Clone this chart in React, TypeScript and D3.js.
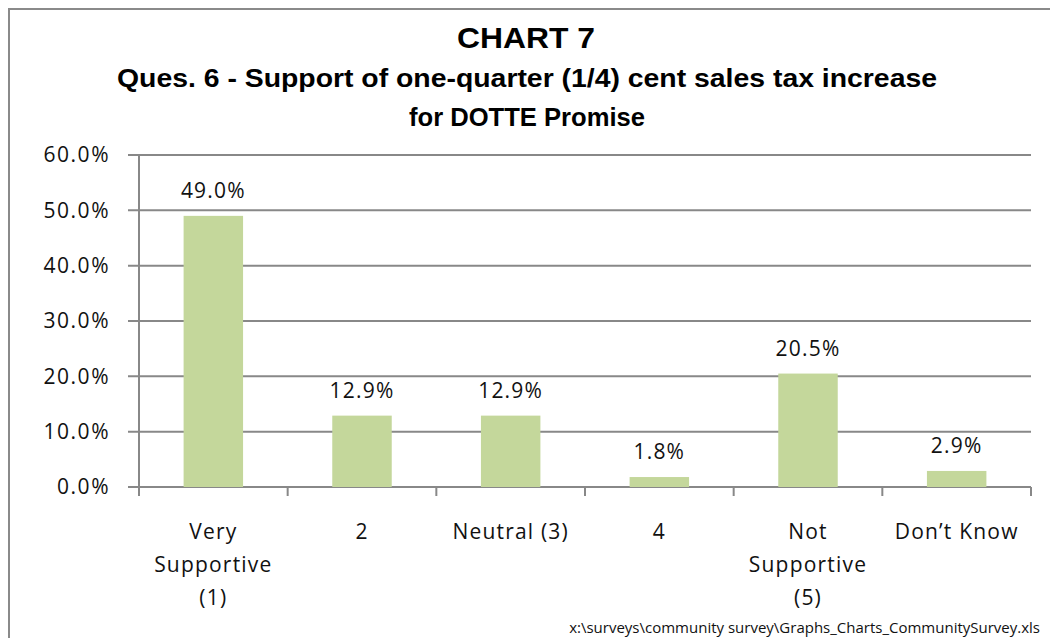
import React from 'react';
import * as d3 from 'd3';

const categories = ['Very Supportive (1)', '2', 'Neutral (3)', '4', 'Not Supportive (5)', 'Don\u2019t Know'];
const categoryLines = [['Very', 'Supportive', '(1)'], ['2'], ['Neutral (3)'], ['4'], ['Not', 'Supportive', '(5)'], ['Don\u2019t Know']];
const values = [49.0, 12.9, 12.9, 1.8, 20.5, 2.9];
const yTicks = [0, 10, 20, 30, 40, 50, 60];

const width = 1050;
const height = 638;
const marginLeft = 139;
const marginRight = 19;
const marginTop = 155;
const marginBottom = 151;
const font = '"Open Sans", "DejaVu Sans", sans-serif';
const titleFont = '"Liberation Sans", sans-serif';

export default function App() {
  const x = d3.scaleBand().domain(categories).range([marginLeft, width - marginRight]).paddingInner(0.6).paddingOuter(0.3);
  const y = d3.scaleLinear().domain([0, 60]).range([height - marginBottom, marginTop]);
  const step = x.step();
  const x0 = marginLeft;
  const x1 = width - marginRight;

  return (
    <svg width={width} height={height} style={{ position: 'absolute', left: 0, top: 0, background: '#fff' }}>
      <rect x={9} y={9} width={width + 10} height={height + 10} fill="none" stroke="#8a8a8a" strokeWidth={2} />
      <text x={526} y={48} textAnchor="middle" fontFamily={titleFont} fontWeight="bold" fontSize={30} textLength={138} lengthAdjust="spacingAndGlyphs">CHART 7</text>
      <text x={527} y={87} textAnchor="middle" fontFamily={titleFont} fontWeight="bold" fontSize={26} textLength={820} lengthAdjust="spacingAndGlyphs">Ques. 6 - Support of one-quarter (1/4) cent sales tax increase</text>
      <text x={527} y={126} textAnchor="middle" fontFamily={titleFont} fontWeight="bold" fontSize={26} textLength={236} lengthAdjust="spacingAndGlyphs">for DOTTE Promise</text>

      {yTicks.map(t => (
        <g key={t}>
          <line x1={x0 - 11} x2={x1} y1={y(t)} y2={y(t)} stroke="#888" strokeWidth={2} />
          <text x={110} y={y(t)} dy="0.35em" textAnchor="end" fontFamily={font} fontSize={21} letterSpacing={1.5} fill="#111">{t.toFixed(1)}%</text>
        </g>
      ))}
      <line x1={x0} x2={x0} y1={marginTop} y2={y(0)} stroke="#888" strokeWidth={2} />

      {categories.map((c, i) => (
        <line key={'t' + i} x1={x0 + step * (i + 1)} x2={x0 + step * (i + 1)} y1={y(0)} y2={y(0) + 9} stroke="#888" strokeWidth={2} />
      ))}
      <line x1={x0} x2={x0} y1={y(0)} y2={y(0) + 9} stroke="#888" strokeWidth={2} />

      {categories.map((c, i) => (
        <g key={c}>
          <rect x={x(c)} y={y(values[i])} width={x.bandwidth()} height={y(0) - y(values[i])} fill="#c4d79b" />
          <text x={(x(c) ?? 0) + x.bandwidth() / 2} y={y(values[i]) - 18} textAnchor="middle" fontFamily={font} fontSize={21} letterSpacing={1.2} fill="#111">{values[i].toFixed(1)}%</text>
          {categoryLines[i].map((ln, j) => (
            <text key={j} x={(x(c) ?? 0) + x.bandwidth() / 2} y={539 + j * 33} textAnchor="middle" fontFamily={font} fontSize={21} letterSpacing={1.2} fill="#111">{ln}</text>
          ))}
        </g>
      ))}

      <text x={1040} y={633} textAnchor="end" fontFamily={font} fontSize={15} fill="#111">x:\surveys\community survey\Graphs_Charts_CommunitySurvey.xls</text>
    </svg>
  );
}
